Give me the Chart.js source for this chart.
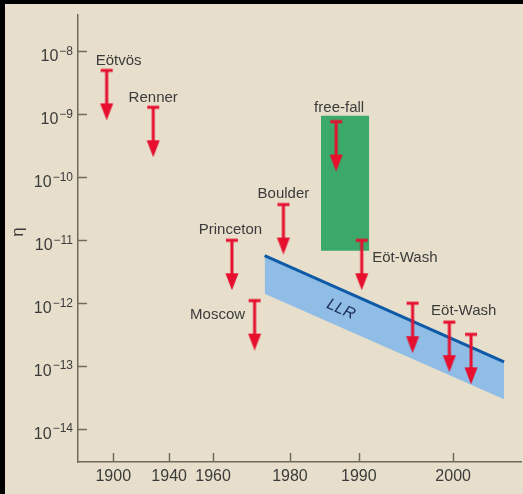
<!DOCTYPE html>
<html>
<head>
<meta charset="utf-8">
<script src="https://cdn.jsdelivr.net/npm/chart.js@4.4.0/dist/chart.umd.min.js"></script>
<style>
  html, body { margin: 0; padding: 0; background: #000; }
  #wrap { position: absolute; left: 5px; top: 4px; width: 518px; height: 490px; background: #e7dfcb; }
  canvas { display: block; }
</style>
</head>
<body>
<div id="wrap"><canvas id="chart" width="518" height="490"></canvas></div>
<script>
// the time axis of the figure is schematic: tick years sit at uneven spacing
const xTickYears = [1900, 1940, 1960, 1980, 1990, 2000];
const xTickPos = [35.3, 91.3, 135.3, 212.3, 281.3, 375.7];
const xRange = [1874.8, 2007.2];
const yTickExps = [-8, -9, -10, -11, -12, -13, -14];
const yRange = [3.24e-15, 3.8e-8];

// upper limits on eta
const expNames = ["Eötvös", "Renner", "Princeton", "Moscow", "Boulder", "free-fall", "Eöt-Wash", "Eöt-Wash", "", ""];
const expYears = [1895.3, 1928.6, 1964.9, 1970.8, 1978.3, 1986.7, 1990.3, 1995.7, 1999.6, 2001.9];
const expLimits = [5.0e-9, 1.3e-9, 1.0e-11, 1.1e-12, 3.7e-11, 7.7e-10, 1.0e-11, 1.0e-12, 5.0e-13, 3.2e-13];

// free-fall region
const freeFallYears = [1984.5, 1991.1];
const freeFallTop = [9.5e-10, 9.5e-10];
const freeFallBottom = [6.8e-12, 6.8e-12];

// lunar laser ranging band
const llrYears = [1973.4, 2005.4];
const llrUpper = [5.7e-12, 1.17e-13];
const llrLower = [1.41e-12, 2.97e-14];

// label placement relative to each limit marker: [align, dx, dy]
const labelPlace = [
  ["left", -11, -10], ["center", 0, -9.5], ["center", -1.5, -10.5], ["right", -9.5, 14],
  ["center", 0, -10.5], ["center", 3, -13.5], ["left", 10.5, 18], ["left", 18.5, 7.5], null, null
];

const RED = "#e60f2e";
const TEXT = "#3b3b3b";
const AXIS = "#6e6a5c";

function yearToPos(year) {
  let i = 0;
  while (i < xTickYears.length - 2 && year > xTickYears[i + 1]) i++;
  const slope = (xTickPos[i + 1] - xTickPos[i]) / (xTickYears[i + 1] - xTickYears[i]);
  return xTickPos[i] + (year - xTickYears[i]) * slope;
}

function makeArrow(color) {
  const c = document.createElement("canvas");
  c.width = 16; c.height = 100;
  const g = c.getContext("2d");
  g.fillStyle = color;
  g.fillRect(2, 48.5, 12, 3);
  g.fillRect(6.5, 50, 3, 34);
  g.beginPath();
  g.moveTo(1.5, 83); g.lineTo(14.5, 83); g.lineTo(8, 100);
  g.closePath();
  g.fill();
  return c;
}

const pts = (xs, ys) => xs.map((x, i) => ({ x: yearToPos(x), y: ys[i] }));

const annotate = {
  id: "annotate",
  afterDatasetsDraw(chart) {
    const ctx = chart.ctx;
    const xs = chart.scales.x, ys = chart.scales.y;
    const area = chart.chartArea;
    ctx.save();

    // ticks drawn inward
    ctx.strokeStyle = AXIS;
    ctx.lineWidth = 1.5;
    yTickExps.forEach(e => {
      const y = Math.round(ys.getPixelForValue(Math.pow(10, e))) + 0.5;
      ctx.beginPath(); ctx.moveTo(area.left, y); ctx.lineTo(area.left + 9, y); ctx.stroke();
    });
    xTickYears.forEach(yr => {
      const x = Math.round(xs.getPixelForValue(yearToPos(yr))) + 0.5;
      ctx.beginPath(); ctx.moveTo(x, area.bottom); ctx.lineTo(x, area.bottom - 9); ctx.stroke();
    });

    // y tick labels 10^n
    ctx.fillStyle = TEXT;
    ctx.textBaseline = "alphabetic";
    yTickExps.forEach(e => {
      const y = ys.getPixelForValue(Math.pow(10, e));
      const sup = "\u2212" + Math.abs(e);
      ctx.font = "12px 'Liberation Sans'";
      const wSup = ctx.measureText(sup).width;
      const right = area.left - 5;
      ctx.textAlign = "right";
      ctx.fillText(sup, right, y + 3.3);
      ctx.font = "16px 'Liberation Sans'";
      ctx.fillText("10", right - wSup - 1, y + 10);
    });

    // x tick labels
    ctx.font = "16px 'Liberation Sans'";
    ctx.textAlign = "center";
    xTickYears.forEach(yr => {
      ctx.fillText(String(yr), xs.getPixelForValue(yearToPos(yr)), area.bottom + 18.5);
    });

    // axis title
    ctx.save();
    ctx.translate(13.5, 228);
    ctx.rotate(-Math.PI / 2);
    ctx.font = "17px 'Liberation Sans'";
    ctx.textBaseline = "middle";
    ctx.fillText("\u03b7", 0, 0);
    ctx.restore();

    // experiment labels
    ctx.font = "15px 'Liberation Sans'";
    ctx.textBaseline = "middle";
    expNames.forEach((name, i) => {
      if (!name || !labelPlace[i]) return;
      const [align, dx, dy] = labelPlace[i];
      const px = xs.getPixelForValue(yearToPos(expYears[i]));
      const py = ys.getPixelForValue(expLimits[i]);
      ctx.textAlign = align;
      ctx.fillText(name, px + dx, py + dy);
    });

    // LLR label along the band
    const x0 = xs.getPixelForValue(yearToPos(llrYears[0]));
    const x1 = xs.getPixelForValue(yearToPos(llrYears[1]));
    const u0 = ys.getPixelForValue(llrUpper[0]), u1 = ys.getPixelForValue(llrUpper[1]);
    const l0 = ys.getPixelForValue(llrLower[0]), l1 = ys.getPixelForValue(llrLower[1]);
    const lx = xs.getPixelForValue(yearToPos(1987.4));
    const t = (lx - x0) / (x1 - x0);
    const ly = ((u0 + (u1 - u0) * t) + (l0 + (l1 - l0) * t)) / 2;
    ctx.save();
    ctx.translate(lx, ly + 1);
    ctx.rotate(Math.atan2(u1 - u0, x1 - x0));
    ctx.font = "italic 16px 'Liberation Sans'";
    ctx.fillStyle = "#1c2d55";
    ctx.textAlign = "center";
    ctx.textBaseline = "middle";
    ctx.fillText("LLR", 0, 0);
    ctx.restore();

    ctx.restore();
  }
};

const arrowImg = makeArrow(RED);

// scales carry no labels of their own; the plot area is set by the padding
const noSize = scale => {
  if (scale.isHorizontal()) scale.height = 0; else scale.width = 0;
  scale.paddingLeft = scale.paddingRight = scale.paddingTop = scale.paddingBottom = 0;
};

new Chart(document.getElementById("chart"), {
  type: "scatter",
  data: {
    datasets: [
      {
        label: "limits",
        data: pts(expYears, expLimits),
        pointStyle: arrowImg,
        pointRadius: 8
      },
      {
        type: "line",
        label: "LLR upper",
        data: pts(llrYears, llrUpper),
        borderColor: "#0e5aa6",
        borderWidth: 3,
        pointRadius: 0,
        backgroundColor: "#8fbde6",
        fill: "+1"
      },
      {
        type: "line",
        label: "LLR lower",
        data: pts(llrYears, llrLower),
        borderWidth: 0,
        pointRadius: 0
      },
      {
        type: "line",
        label: "free-fall top",
        data: pts(freeFallYears, freeFallTop),
        borderWidth: 0,
        pointRadius: 0,
        backgroundColor: "#3aa96a",
        fill: "+1"
      },
      {
        type: "line",
        label: "free-fall bottom",
        data: pts(freeFallYears, freeFallBottom),
        borderWidth: 0,
        pointRadius: 0
      }
    ]
  },
  options: {
    responsive: false,
    animation: false,
    events: [],
    layout: { autoPadding: false, padding: { left: 73, right: 2, top: 11, bottom: 32 } },
    plugins: { legend: { display: false }, tooltip: { enabled: false } },
    scales: {
      x: {
        type: "linear",
        min: yearToPos(xRange[0]),
        max: yearToPos(xRange[1]),
        grid: { display: false, drawTicks: false },
        ticks: { display: false },
        border: { display: true, color: AXIS, width: 1.5 },
        afterFit: noSize
      },
      y: {
        type: "logarithmic",
        min: yRange[0],
        max: yRange[1],
        grid: { display: false, drawTicks: false },
        ticks: { display: false },
        border: { display: true, color: AXIS, width: 1.5 },
        afterFit: noSize
      }
    }
  },
  plugins: [annotate]
});
</script>
</body>
</html>
